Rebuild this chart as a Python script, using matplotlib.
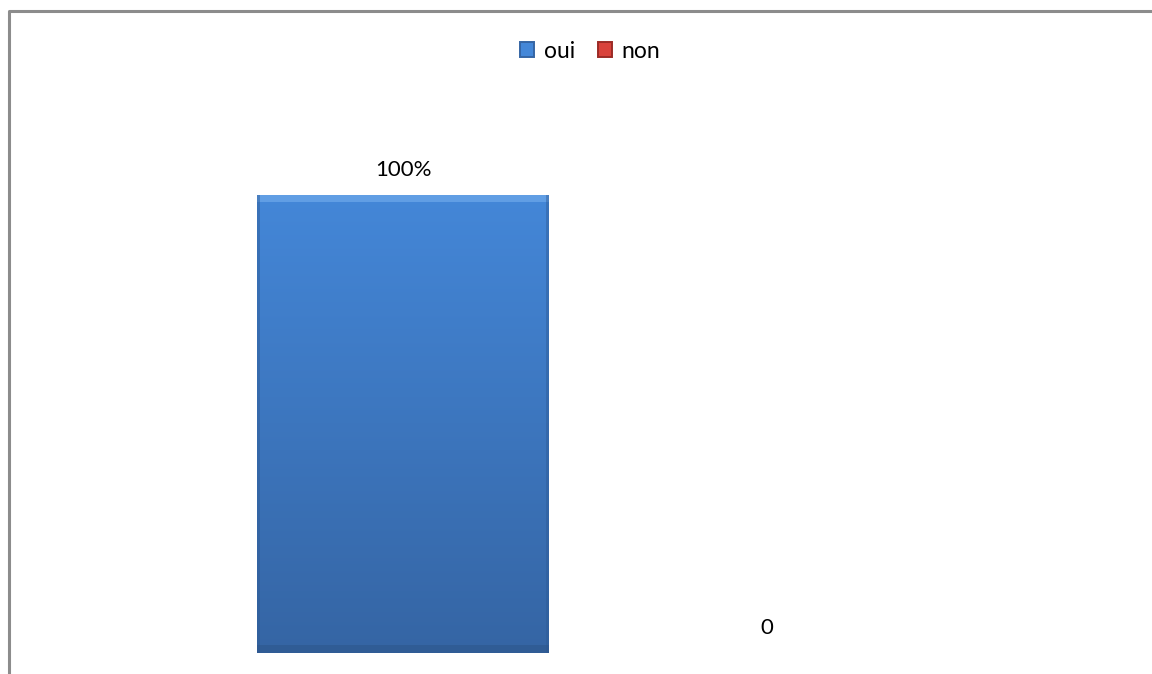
import matplotlib.pyplot as plt
import numpy as np
from matplotlib.lines import Line2D
from matplotlib.patches import Rectangle

series = ["oui", "non"]
values = [1.0, 0.0]
value_labels = ["100%", "0"]

TOP_COLORS = {"oui": "#4487d8", "non": "#d9423b"}
BOTTOM_COLORS = {"oui": "#3565a4", "non": "#9c2b26"}

plt.rcParams["font.family"] = ["Lato", "DejaVu Sans"]

W, H = 1152, 674
fig = plt.figure(figsize=(W / 100, H / 100), dpi=100)
ax = fig.add_axes([221 / W, 21 / H, 728 / W, (653 - 195) / H])
ax.set_xlim(-0.5, 1.5)
ax.set_ylim(0, 1)
ax.axis("off")

# outer chart frame (only left and top edges visible)
fx, fy = 9 / W, 1 - 11 / H
fig.add_artist(Line2D([fx, fx, 1], [0, fy, fy], transform=fig.transFigure,
                      color="#8c8c8c", linewidth=2.2))


def gradient_rgb(c_top, c_bot, n=256):
    a = np.array(plt.matplotlib.colors.to_rgb(c_top))
    b = np.array(plt.matplotlib.colors.to_rgb(c_bot))
    t = np.linspace(0, 1, n)[:, None]
    return (a * (1 - t) + b * t)[:, None, :]


bars = ax.bar(range(len(series)), values, width=0.8, color="none", linewidth=0)
for name, rect, label in zip(series, bars, value_labels):
    x0, w, h = rect.get_x(), rect.get_width(), rect.get_height()
    if h > 0:
        ax.imshow(gradient_rgb(TOP_COLORS[name], BOTTOM_COLORS[name]),
                  extent=(x0, x0 + w, 0, h), aspect="auto", zorder=2,
                  interpolation="bilinear")
        # bevel: light top strip, darker sides and bottom
        ax.add_patch(Rectangle((x0, h * 0.984), w, h * 0.016,
                               color="#7ab2f0", alpha=0.55, zorder=3, linewidth=0))
        ax.add_patch(Rectangle((x0, 0), w * 0.01, h, color="#2d5a95",
                               alpha=0.45, zorder=3, linewidth=0))
        ax.add_patch(Rectangle((x0 + w * 0.99, 0), w * 0.01, h, color="#2d5a95",
                               alpha=0.45, zorder=3, linewidth=0))
        ax.add_patch(Rectangle((x0, 0), w, h * 0.018, color="#2c5488",
                               alpha=0.5, zorder=3, linewidth=0))
    ax.annotate(label, (rect.get_x() + w / 2, h), xytext=(0, 18),
                textcoords="offset points", ha="center", va="center",
                fontsize=16, color="#000000", annotation_clip=False)

handles = [Rectangle((0, 0), 1, 1, facecolor=TOP_COLORS[s],
                     edgecolor=BOTTOM_COLORS[s], linewidth=1.4) for s in series]
fig.legend(handles, series, loc="center", bbox_to_anchor=(590 / W, 1 - 51 / H),
           ncol=2, frameon=False, fontsize=16.5, handlelength=0.62,
           handleheight=0.62, handletextpad=0.4, columnspacing=1.0)

fig.savefig("out.png", dpi=100)
